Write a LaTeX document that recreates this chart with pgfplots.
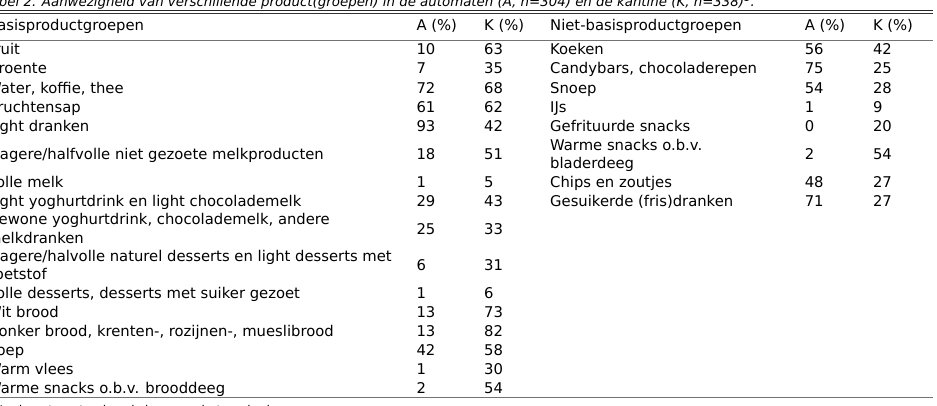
\documentclass[border=0pt]{standalone}
\usepackage{fontspec}
\setmainfont{DejaVu Sans}
\usepackage{pgfplots}
\usepackage{pgfplotstable}
\pgfplotsset{compat=1.18}

\newcommand\pct{\%}
\newcommand\tabfont{\fontsize{14.8}{17}\selectfont}

% one row per text line: x (left edge), y (baseline, px from top), text
\pgfplotstableread[col sep=semicolon]{
x;y;t
-13;30.6;Basisproductgroepen
416.3;30.6;A (\pct)
484;30.6;K (\pct)
550;30.6;Niet-basisproductgroepen
804.6;30.6;A (\pct)
872.8;30.6;K (\pct)
-13;54;Fruit
-13;73.9;Groente
-13;93.2;Water, koffie, thee
-13;112.2;Vruchtensap
-13;131.2;Light dranken
-13;159.2;Magere/halfvolle niet gezoete melkproducten
-13;187.2;Volle melk
-13;206.2;Light yoghurtdrink en light chocolademelk
-13;224.9;Gewone yoghurtdrink, chocolademelk, andere
-13;243.9;melkdranken
-13;261.2;Magere/halvolle naturel desserts en light desserts met
-13;279.9;zoetstof
-13;298.4;Volle desserts, desserts met suiker gezoet
-13;317.2;Wit brood
-13;336.6;Donker brood, krenten-, rozijnen-, mueslibrood
-13;355.6;Soep
-13;374.6;Warm vlees
-13;393.2;Warme snacks o.b.v. brooddeeg
550;54;Koeken
550;73.9;Candybars, chocoladerepen
550;93.2;Snoep
550;112.2;IJs
550;131.2;Gefrituurde snacks
550;150.6;Warme snacks o.b.v.
550;168.9;bladerdeeg
550;187.2;Chips en zoutjes
550;206.2;Gesuikerde (fris)dranken
}\labels

% numbers: baseline y, A and K for the basic groups (left) and the others (right)
\pgfplotstableread{
y A K
54 10 63
73.9 7 35
93.2 72 68
112.2 61 62
131.2 93 42
159.2 18 51
187.2 1 5
206.2 29 43
234.6 25 33
270.9 6 31
298.4 1 6
317.2 13 73
336.6 13 82
355.6 42 58
374.6 1 30
393.2 2 54
}\basis

\pgfplotstableread{
y A K
54 56 42
73.9 75 25
93.2 54 28
112.2 1 9
131.2 0 20
159.2 2 54
187.2 48 27
206.2 71 27
}\niet

\begin{document}
\begin{tikzpicture}
\begin{axis}[
  width=937pt, height=405pt, scale only axis,
  xmin=0, xmax=937, ymin=0, ymax=405, y dir=reverse,
  axis lines=none, ticks=none, clip=false,
  txt/.style={only marks, mark=*, mark size=0pt,
    mark options={draw=none, fill=none},
    nodes near coords, point meta=explicit symbolic,
    nodes near coords style={anchor=base west, inner sep=0pt,
      text=black, font=\tabfont}},
]
% rules
\addplot[black!85, line width=1.1pt] coordinates {(0,10.6) (933,10.6)};
\addplot[black!80, line width=1.1pt] coordinates {(0,13.3) (933,13.3)};
\addplot[black!55, line width=1pt] coordinates {(0,40.6) (933,40.6)};
\addplot[black!55, line width=1pt] coordinates {(0,397.4) (933,397.4)};

% caption (mostly cut off at the top) and footnote (cut off at the bottom)
\addplot[txt, nodes near coords style={font=\fontsize{13.35}{16}\selectfont\itshape}]
  table[row sep=\\, col sep=semicolon, x=x, y=y, meta=t] {
  x;y;t\\
  -16.2;6.3;Tabel 2. Aanwezigheid van verschillende product(groepen) in de automaten (A, n=304) en de kantine (K, n=338)\textsuperscript{1}.\\
};
\addplot[txt, nodes near coords style={font=\fontsize{12}{14}\selectfont}]
  table[row sep=\\, col sep=semicolon, x=x, y=y, meta=t] {
  x;y;t\\
  -10;414;\textsuperscript{1} In de automaten is gekeken naar het aanbod; in de kantine ook mogelijk bij het buffet en de kassa\\
};

\addplot[txt] table[x=x, y=y, meta=t] {\labels};
\addplot[txt] table[x expr=416.3, y=y, meta=A] {\basis};
\addplot[txt] table[x expr=484, y=y, meta=K] {\basis};
\addplot[txt] table[x expr=804.6, y=y, meta=A] {\niet};
\addplot[txt] table[x expr=872.8, y=y, meta=K] {\niet};

\coordinate (sw) at (axis cs:0,405);
\coordinate (ne) at (axis cs:937,0);
\end{axis}
\pgfresetboundingbox
\path[use as bounding box] (sw) rectangle (ne);
\end{tikzpicture}
\end{document}
